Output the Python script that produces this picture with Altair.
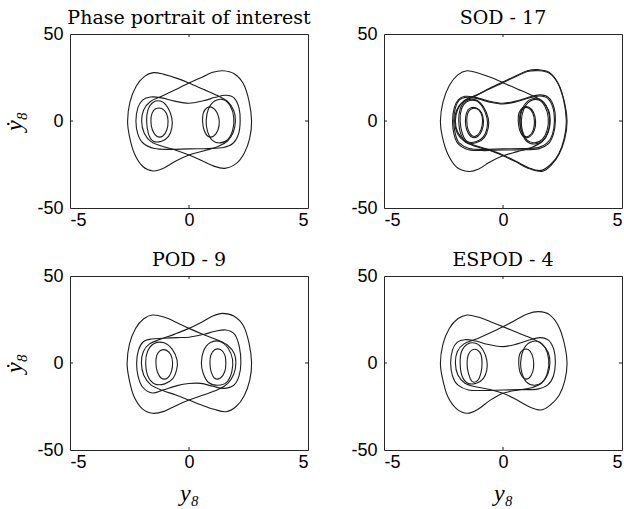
import altair as alt
import pandas as pd

# Axis layout
X_DOMAIN = [-5, 5]
Y_DOMAIN = [-50, 50]
X_TICKS = [-5, 0, 5]
Y_TICKS = [-50, 0, 50]

# Panel titles
TITLES = ["Phase portrait of interest", "SOD - 17", "POD - 9", "ESPOD - 4"]

# Traced orbit pieces (y8, dy8/dt) for each panel; every piece is a closed loop.
interest = {
    "outer_left": [(-2.58, 0), (-2.48, 11), (-2.22, 20), (-1.88, 25.5), (-1.5, 27.8), (-1.05, 26.8),
                   (-0.5, 24.5), (0, 21.8), (0.6, 18.2), (1.2, 14.6), (1.62, 11.2), (1.88, 6), (1.95, 0),
                   (1.86, -6.5), (1.62, -11.5), (1.2, -14.8), (0.6, -17.2), (0, -19.6), (-0.55, -23),
                   (-1.05, -27), (-1.5, -28.7), (-1.95, -26), (-2.3, -18.5), (-2.5, -9)],
    "outer_right": [(2.63, 0), (2.55, -10), (2.32, -18.5), (1.98, -24.5), (1.5, -27.2), (1.02, -25.8),
                    (0.5, -22.6), (0, -19.6), (-0.55, -16.8), (-1.1, -14.6), (-1.58, -12), (-1.88, -7),
                    (-1.99, 0), (-1.9, 6.5), (-1.62, 11.2), (-1.15, 14.2), (-0.6, 17.8), (0, 21.8),
                    (0.55, 25.2), (1.0, 28), (1.42, 28.9), (1.9, 27.2), (2.28, 21.5), (2.52, 11.5)],
    "waist": [(-2.23, 0), (-2.15, 7.5), (-1.95, 12), (-1.62, 13.8), (-1.15, 13.3), (-0.6, 11.4), (0, 10.2),
              (0.6, 11.6), (1.1, 13.6), (1.55, 14.8), (1.9, 13.2), (2.1, 7.5), (2.15, 0), (2.08, -7.5),
              (1.85, -12.8), (1.45, -15.2), (0.8, -15.8), (0, -16), (-0.8, -16.3), (-1.45, -15.8),
              (-1.92, -12.8), (-2.15, -7.5)],
    "left_small": [(-1.6, 0), (-1.55, 4.5), (-1.4, 7), (-1.15, 7.2), (-0.95, 4.5), (-0.88, 0), (-0.93, -5),
                   (-1.1, -8.6), (-1.35, -8.8), (-1.54, -5)],
    "left_mid": [(-1.78, 0), (-1.72, 6.5), (-1.5, 10.8), (-1.15, 11.2), (-0.88, 7.5), (-0.72, 1.5),
                 (-0.72, -4), (-0.86, -8.8), (-1.15, -11.6), (-1.5, -11.6), (-1.7, -7.5)],
    "right_small": [(0.57, 0), (0.6, 4.5), (0.76, 7.6), (0.98, 7.8), (1.18, 4.8), (1.27, 0), (1.22, -5),
                    (1.04, -8.6), (0.8, -8.8), (0.63, -5)],
    "right_mid": [(0.72, 0), (0.82, 7), (1.08, 11.5), (1.45, 12.2), (1.74, 8.5), (1.88, 2), (1.84, -5),
                  (1.64, -10.5), (1.3, -12.6), (0.97, -11), (0.78, -6)],
}

sod = {
    "outer_left": [(-2.63, 0), (-2.52, 11), (-2.25, 20.5), (-1.9, 26.5), (-1.51, 28.9), (-1.05, 27.6),
                   (-0.5, 25), (0, 22), (0.6, 18.4), (1.2, 14.8), (1.64, 11.4), (1.92, 6), (1.98, 0),
                   (1.9, -6.5), (1.65, -11.8), (1.2, -15.2), (0.6, -17.6), (0, -20), (-0.55, -23.6),
                   (-1.02, -27.6), (-1.44, -29), (-1.95, -26.5), (-2.32, -19), (-2.55, -9)],
    "outer_right": [(2.69, 0), (2.6, -10), (2.36, -19), (2.02, -25.5), (1.64, -29), (1.12, -27.5),
                    (0.5, -23.2), (0, -20), (-0.55, -17), (-1.1, -14.8), (-1.6, -12), (-1.92, -7),
                    (-2.03, 0), (-1.94, 6.5), (-1.65, 11.4), (-1.15, 14.4), (-0.6, 18.2), (0, 22),
                    (0.55, 25.6), (1.02, 28.4), (1.5, 28.9), (1.95, 27.4), (2.32, 21.5), (2.57, 11.5)],
    "outer_right_b": [(2.66, 0), (2.57, -10), (2.34, -19), (2.0, -25), (1.6, -28.4), (1.1, -27),
                      (0.5, -22.8), (0, -19.6), (-0.55, -16.6), (-1.1, -14.4), (-1.58, -11.6), (-1.9, -6.5),
                      (-2.0, 0), (-1.9, 6.8), (-1.62, 11.8), (-1.12, 14.9), (-0.58, 18.7), (0, 22.5),
                      (0.55, 26), (1.02, 28.9), (1.5, 29.5), (1.95, 27.9), (2.3, 21.8), (2.55, 11.8)],
    "waist": [(-2.12, 0), (-2.05, 7.5), (-1.88, 12.2), (-1.6, 14.2), (-1.15, 13.6), (-0.6, 11.5), (0, 10.2),
              (0.6, 11.6), (1.1, 13.8), (1.55, 15), (1.92, 13.4), (2.15, 7.5), (2.2, 0), (2.12, -7.5),
              (1.9, -13.2), (1.5, -16), (0.8, -16.6), (0, -16.7), (-0.8, -17), (-1.45, -16.5),
              (-1.88, -13.2), (-2.06, -7.5)],
    "waist_b": [(-2.07, 0), (-2.0, 7.5), (-1.84, 12), (-1.57, 13.6), (-1.12, 13), (-0.6, 11), (0, 9.8),
                (0.6, 11.2), (1.1, 13.3), (1.55, 14.4), (1.88, 13), (2.1, 7.5), (2.16, 0), (2.08, -7.5),
                (1.86, -12.6), (1.48, -15.3), (0.8, -15.9), (0, -16), (-0.8, -16.3), (-1.42, -15.8),
                (-1.84, -12.6), (-2.0, -7.5)],
    "left_small": [(-1.58, 0), (-1.53, 4.8), (-1.38, 7.4), (-1.12, 7.5), (-0.9, 4.8), (-0.82, 0), (-0.88, -5.2),
                   (-1.06, -8.9), (-1.32, -9.2), (-1.52, -5.2)],
    "left_small_b": [(-1.52, 0), (-1.48, 4.4), (-1.34, 6.9), (-1.1, 7), (-0.92, 4.4), (-0.86, 0),
                     (-0.92, -4.8), (-1.08, -8.2), (-1.3, -8.5), (-1.47, -4.8)],
    "left_mid": [(-1.86, 0), (-1.8, 7), (-1.56, 11.6), (-1.15, 12.2), (-0.82, 8.2), (-0.62, 1.5),
                 (-0.62, -4), (-0.78, -9.4), (-1.1, -12.4), (-1.5, -12.4), (-1.76, -8)],
    "left_mid_b": [(-1.8, 0), (-1.75, 6.6), (-1.52, 11.1), (-1.13, 11.6), (-0.85, 7.8), (-0.67, 1.5),
                   (-0.67, -4), (-0.82, -9), (-1.12, -11.8), (-1.48, -11.9), (-1.7, -7.6)],
    "right_small": [(0.64, 0), (0.67, 4.6), (0.84, 7.8), (1.07, 8), (1.28, 5), (1.37, 0), (1.32, -5.2),
                    (1.13, -9), (0.88, -9.2), (0.7, -5.2)],
    "right_small_b": [(0.7, 0), (0.72, 4.3), (0.86, 7.3), (1.07, 7.5), (1.25, 4.6), (1.32, 0), (1.28, -4.8),
                      (1.11, -8.4), (0.9, -8.6), (0.75, -4.8)],
    "right_mid": [(0.72, 0), (0.82, 7.2), (1.1, 12), (1.5, 12.8), (1.8, 9), (1.96, 2), (1.92, -5),
                  (1.7, -11), (1.33, -13.2), (0.98, -11.5), (0.78, -6)],
    "right_mid_b": [(0.77, 0), (0.87, 6.8), (1.13, 11.4), (1.5, 12.1), (1.76, 8.5), (1.9, 2), (1.86, -5),
                    (1.66, -10.4), (1.32, -12.5), (1.0, -10.9), (0.82, -5.7)],
}

pod = {
    "outer_left": [(-2.6, 0), (-2.5, 11), (-2.24, 20), (-1.9, 25.4), (-1.53, 27.6), (-1.05, 26.4),
                   (-0.5, 23.2), (0, 19.9), (0.6, 16.4), (1.2, 13.2), (1.62, 10.2), (1.9, 5.5), (1.97, 0),
                   (1.88, -6.5), (1.62, -11.8), (1.2, -15.4), (0.6, -18.4), (0, -21.3), (-0.55, -24.5),
                   (-1.05, -27.8), (-1.53, -28.9), (-1.97, -26.2), (-2.32, -19), (-2.52, -9)],
    "outer_right": [(2.63, 0), (2.55, -10), (2.32, -18.8), (1.98, -25), (1.55, -28), (1.05, -26.6),
                    (0.5, -24), (0, -21.3), (-0.55, -18.4), (-1.1, -15.8), (-1.6, -12.6), (-1.9, -7),
                    (-2.0, 0), (-1.92, 6.5), (-1.66, 11), (-1.2, 13.6), (-0.6, 16.6), (0, 19.9),
                    (0.55, 23.6), (1.0, 27), (1.41, 28.5), (1.88, 27), (2.28, 21.5), (2.52, 11.5)],
    "waist": [(-2.2, 0), (-2.12, 7.5), (-1.92, 12.2), (-1.58, 13.8), (-1.1, 14.2), (-0.5, 14.6), (0, 14.8),
              (0.6, 16.4), (1.1, 18.2), (1.55, 19), (1.92, 16.5), (2.12, 9), (2.18, 0), (2.1, -7.5),
              (1.88, -12.8), (1.45, -14.6), (1.0, -13.4), (0.5, -11.7), (0, -11.8), (-0.5, -13),
              (-1.1, -15.6), (-1.55, -17.2), (-1.95, -13.8), (-2.14, -7.5)],
    "left_small": [(-1.39, 0), (-1.35, 4.5), (-1.2, 7.2), (-0.96, 7.4), (-0.76, 4.6), (-0.69, 0),
                   (-0.74, -5), (-0.9, -8.6), (-1.15, -8.8), (-1.33, -5)],
    "left_mid": [(-1.82, 0), (-1.74, 6.8), (-1.46, 11.2), (-1.05, 11.6), (-0.7, 7.8), (-0.5, 1.5),
                 (-0.52, -4), (-0.68, -9), (-1.02, -12), (-1.44, -12), (-1.72, -7.8)],
    "right_small": [(0.88, 0), (0.92, 4.6), (1.08, 7.6), (1.32, 7.8), (1.5, 4.8), (1.55, 0), (1.5, -5),
                    (1.32, -8.6), (1.08, -8.8), (0.93, -5)],
    "right_mid": [(0.52, 0), (0.62, 7.2), (0.9, 11.8), (1.3, 12.4), (1.64, 8.6), (1.83, 2), (1.8, -5),
                  (1.6, -10.8), (1.22, -12.8), (0.82, -11.2), (0.6, -6)],
}

espod = {
    "outer_left": [(-2.63, 0), (-2.52, 11), (-2.25, 20), (-1.9, 25.4), (-1.51, 27.6), (-1.05, 26.4),
                   (-0.5, 23.6), (0, 20.9), (0.6, 17.5), (1.2, 14.2), (1.62, 11), (1.9, 6), (1.97, 0),
                   (1.88, -6.5), (1.63, -11.4), (1.2, -14.2), (0.6, -15.6), (0, -17.4), (-0.55, -21.5),
                   (-1.05, -26.6), (-1.5, -28.9), (-1.96, -26.2), (-2.33, -19), (-2.54, -9)],
    "outer_right": [(2.69, 0), (2.6, -10), (2.36, -18.5), (2.0, -24), (1.6, -27), (1.08, -25),
                    (0.5, -20.6), (0, -17.4), (-0.55, -15.2), (-1.1, -13.8), (-1.6, -11.6), (-1.9, -6.8),
                    (-2.0, 0), (-1.92, 6.5), (-1.64, 11), (-1.15, 13.6), (-0.6, 17), (0, 20.9),
                    (0.55, 24.8), (1.02, 28.2), (1.5, 29.5), (1.95, 27.8), (2.32, 21.5), (2.57, 11.5)],
    "waist": [(-2.2, 0), (-2.12, 7.5), (-1.92, 12), (-1.6, 13.4), (-1.15, 12.6), (-0.6, 10.6), (0, 9.4),
              (0.6, 11), (1.1, 13.2), (1.55, 14.6), (1.92, 13), (2.14, 7.5), (2.2, 0), (2.12, -7.5),
              (1.88, -12.6), (1.45, -15), (0.8, -15.3), (0, -15.5), (-0.8, -15.8), (-1.45, -15.5),
              (-1.9, -12.6), (-2.12, -7.5)],
    "left_small": [(-1.51, 0), (-1.46, 4.6), (-1.31, 7.4), (-1.08, 7.5), (-0.92, 4.6), (-0.88, 0),
                   (-0.92, -5.2), (-1.06, -10), (-1.3, -10.6), (-1.46, -5.5)],
    "left_mid": [(-1.8, 0), (-1.74, 6.6), (-1.5, 10.8), (-1.12, 11.2), (-0.84, 7.5), (-0.68, 1.5),
                 (-0.68, -4), (-0.82, -8.8), (-1.12, -11.6), (-1.48, -11.6), (-1.72, -7.5)],
    "right_small": [(0.66, 0), (0.69, 4.6), (0.84, 7.5), (1.06, 7.7), (1.22, 4.8), (1.29, 0), (1.25, -5),
                    (1.1, -8.6), (0.88, -8.8), (0.71, -5)],
    "right_mid": [(0.74, 0), (0.84, 7), (1.1, 11.6), (1.48, 12.4), (1.78, 8.6), (1.92, 2), (1.88, -5),
                  (1.68, -10.6), (1.33, -12.8), (0.99, -11), (0.8, -6)],
}

PANELS = [interest, sod, pod, espod]

LINE_COLOR = "#1c1c1c"
PW, PH = 238, 174
TICK_LEN = 3


def to_frame(pieces):
    rows = []
    for name, pts in pieces.items():
        for i, (x, y) in enumerate(pts):
            rows.append({"curve": name, "i": i, "x": x, "y": y})
    return pd.DataFrame(rows)


def px_x(v):
    return PW * (v - X_DOMAIN[0]) / (X_DOMAIN[1] - X_DOMAIN[0])


def px_y(v):
    return PH * (Y_DOMAIN[1] - v) / (Y_DOMAIN[1] - Y_DOMAIN[0])


xscale = alt.Scale(domain=X_DOMAIN, nice=False, zero=False)
yscale = alt.Scale(domain=Y_DOMAIN, nice=False, zero=False)
label_expr = "'' + datum.value"


def panel(pieces, title, ytitle, xtitle):
    df = to_frame(pieces)
    xaxis = alt.Axis(values=X_TICKS, labelExpr=label_expr, labelPadding=3,
                     title=("y\u2088" if xtitle else None), titlePadding=10)
    yaxis = alt.Axis(values=Y_TICKS, labelExpr=label_expr, labelPadding=7,
                     title=("\u1e8f\u2088" if ytitle else None), titlePadding=10)
    orbit = alt.Chart(df).mark_line(
        interpolate="cardinal-closed", stroke=LINE_COLOR, strokeWidth=1.1
    ).encode(
        x=alt.X("x:Q", scale=xscale, axis=xaxis),
        y=alt.Y("y:Q", scale=yscale, axis=yaxis),
        detail="curve:N",
        order="i:Q",
    )
    # small inward ticks at the zero lines on all four sides of the box
    layers = [orbit]
    tk = alt.Chart(pd.DataFrame({"k": [0]})).mark_rule(color=LINE_COLOR, strokeWidth=1)
    for xv in [v for v in X_TICKS if X_DOMAIN[0] < v < X_DOMAIN[1]]:
        layers.append(tk.encode(x=alt.value(px_x(xv)), y=alt.value(PH), y2=alt.value(PH - TICK_LEN)))
        layers.append(tk.encode(x=alt.value(px_x(xv)), y=alt.value(0), y2=alt.value(TICK_LEN)))
    for yv in [v for v in Y_TICKS if Y_DOMAIN[0] < v < Y_DOMAIN[1]]:
        layers.append(tk.encode(y=alt.value(px_y(yv)), x=alt.value(0), x2=alt.value(TICK_LEN)))
        layers.append(tk.encode(y=alt.value(px_y(yv)), x=alt.value(PW), x2=alt.value(PW - TICK_LEN)))
    return alt.layer(*layers).properties(
        width=PW, height=PH,
        title=alt.TitleParams(title, frame="group", offset=-3, fontSize=19,
                              font="DejaVu Serif", fontWeight="normal", color="#000"),
    )


chart = alt.concat(
    panel(PANELS[0], TITLES[0], True, False),
    panel(PANELS[1], TITLES[1], False, False),
    panel(PANELS[2], TITLES[2], True, True),
    panel(PANELS[3], TITLES[3], False, True),
    columns=2, spacing={"row": 68, "column": 76}, bounds="flush",
).properties(
    padding={"left": 2, "top": 8, "right": 0, "bottom": 0}
).configure(
    background="white"
).configure_view(
    stroke="#262626", strokeWidth=1
).configure_axis(
    domain=False, ticks=False, grid=False,
    labelFont="Liberation Sans", labelFontSize=18, labelColor="#000",
    titleFont="Liberation Serif", titleFontStyle="italic", titleFontWeight="normal",
    titleFontSize=24, titleColor="#000",
)

chart.save("out.html", embed_options={"renderer": "svg", "actions": False})
